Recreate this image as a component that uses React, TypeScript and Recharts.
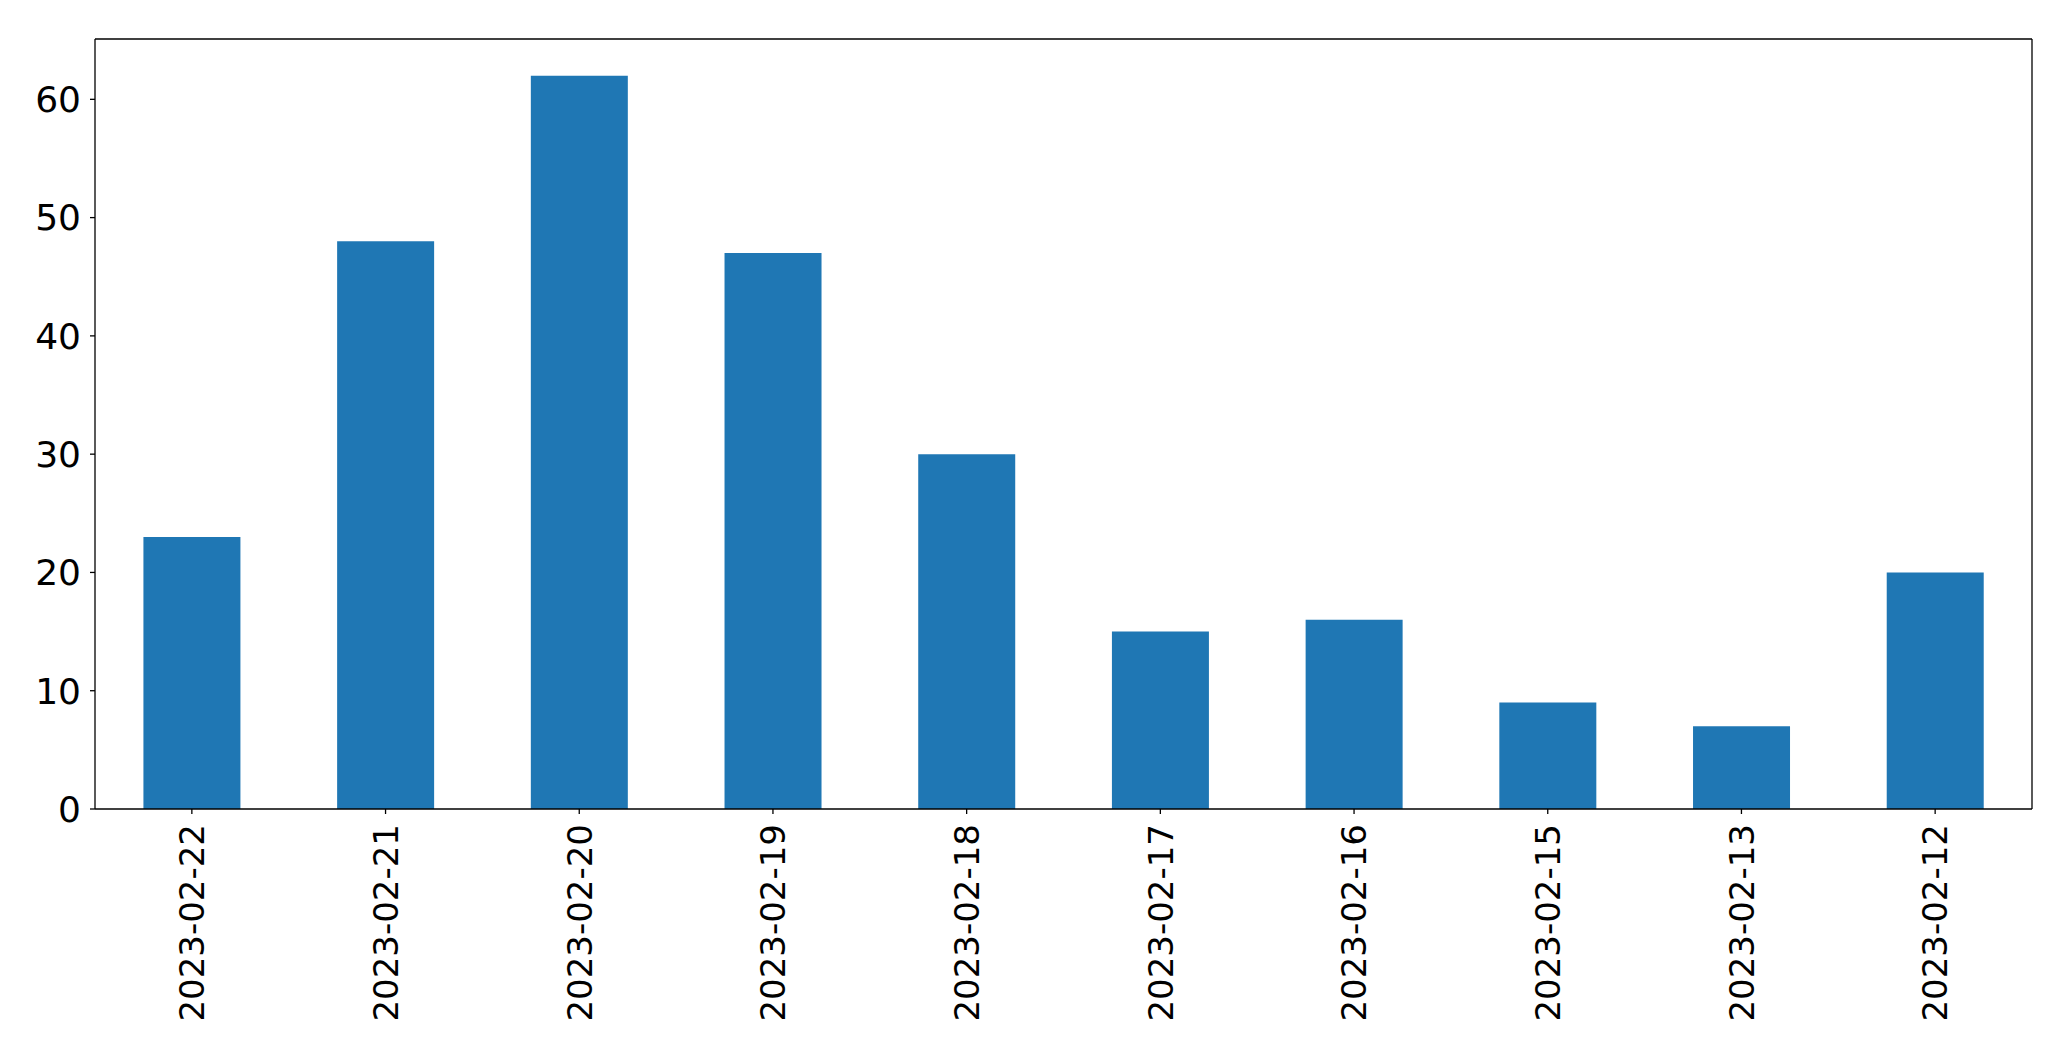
import { BarChart, Bar, XAxis, YAxis, CartesianGrid } from 'recharts';

const dates = [
  '2023-02-22',
  '2023-02-21',
  '2023-02-20',
  '2023-02-19',
  '2023-02-18',
  '2023-02-17',
  '2023-02-16',
  '2023-02-15',
  '2023-02-13',
  '2023-02-12',
];
const counts = [23, 48, 62, 47, 30, 15, 16, 9, 7, 20];
const yTicks = [0, 10, 20, 30, 40, 50, 60];

const data = dates.map((date, i) => ({ date, count: counts[i] }));

const FONT = '"DejaVu Sans", sans-serif';

function DateTick({ x, y, payload }: any) {
  return (
    <g transform={`translate(${x},${y})`}>
      <text
        transform="rotate(-90)"
        textAnchor="end"
        dy="0.36em"
        fontSize={34}
        fontFamily={FONT}
        fill="#000"
      >
        {payload.value}
      </text>
    </g>
  );
}

// top and right spines, taken from the plot offset
const topSpine = ({ offset }: any) => [offset.top];
const rightSpine = ({ offset }: any) => [offset.left + offset.width];

export default function App() {
  return (
    <div style={{ position: 'absolute', left: 0, top: 0, background: '#fff' }}>
      <BarChart
        width={2071}
        height={1061}
        data={data}
        margin={{ top: 39, right: 39, left: 0, bottom: 0 }}
        barCategoryGap="25%"
      >
        <CartesianGrid
          stroke="#000"
          strokeWidth={1.3}
          horizontalCoordinatesGenerator={topSpine}
          verticalCoordinatesGenerator={rightSpine}
        />
        <XAxis
          dataKey="date"
          height={252}
          interval={0}
          tickSize={5}
          tickMargin={10}
          tick={<DateTick />}
          axisLine={{ stroke: '#000', strokeWidth: 1.3 }}
          tickLine={{ stroke: '#000', strokeWidth: 1.3 }}
        />
        <YAxis
          width={95}
          domain={[0, 65.1]}
          ticks={yTicks}
          tickSize={5}
          tickMargin={9}
          tick={{ fontSize: 36, fontFamily: FONT, fill: '#000' }}
          axisLine={{ stroke: '#000', strokeWidth: 1.3 }}
          tickLine={{ stroke: '#000', strokeWidth: 1.3 }}
        />
        <Bar dataKey="count" fill="#1f77b4" isAnimationActive={false} />
      </BarChart>
    </div>
  );
}
